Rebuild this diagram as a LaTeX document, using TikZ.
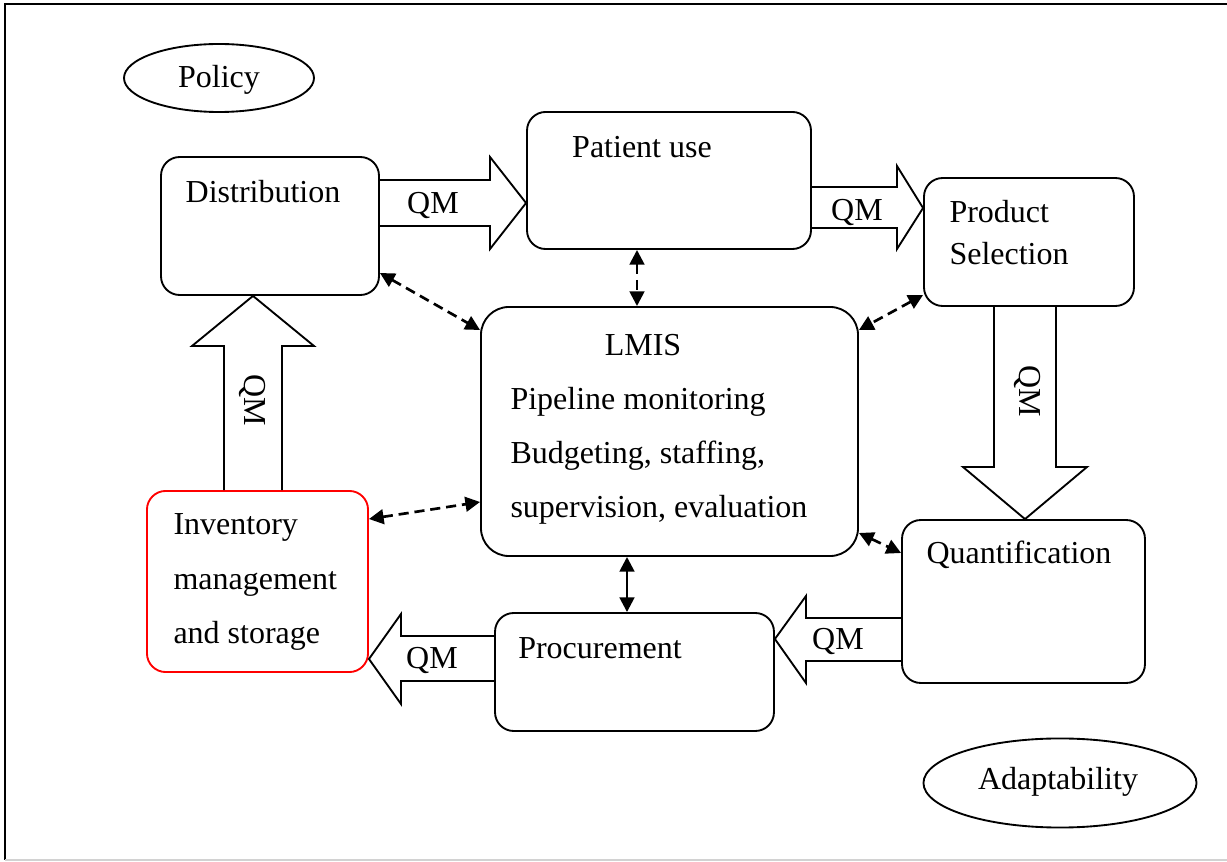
\documentclass[tikz,border=0pt]{standalone}
\usepackage{fontspec}
\setmainfont{Liberation Serif}
\usetikzlibrary{shapes.geometric,arrows.meta}

\begin{document}
\begin{tikzpicture}[x=0.375pt,y=-0.375pt,
  box/.style={draw,line width=0.7pt,rounded corners=7pt,inner sep=0pt},
  oval/.style={draw,ellipse,line width=0.7pt,inner sep=0pt},
  txt/.style={font=\fontsize{12}{14.5}\selectfont,inner sep=0pt},
  fat/.style={draw,line width=0.7pt,line join=miter},
  link/.style={{Triangle[length=5.5pt,width=5.5pt]}-{Triangle[length=5.5pt,width=5.5pt]},line width=1pt,dash pattern=on 3.8pt off 2.2pt}]
\useasboundingbox (0,0) rectangle (1227,862);
\draw[line width=0.6pt] (5,860) -- (5,4) -- (1227,4);
\draw[gray!35,line width=0.6pt] (5,860) -- (1227,860);

\node[oval,txt,minimum width=71.25pt,minimum height=25.5pt] (policy) at (219,78) {};
\node[txt] (policy-t) at (219,80) {Policy};
\node[oval,txt,minimum width=102.4pt,minimum height=33.4pt] (adapt) at (1060,783) {};
\node[txt] (adapt-t) at (1058,782) {Adaptability};

\node[box,minimum width=81.75pt,minimum height=51.75pt] (dist) at (270,226) {};
\node[box,minimum width=106.5pt,minimum height=51.4pt] (pat) at (669,180.5) {};
\node[box,minimum width=78.75pt,minimum height=48pt] (ps) at (1029,242) {};
\node[box,rounded corners=10.5pt,minimum width=141.4pt,minimum height=93.4pt] (lmis) at (669.5,431.5) {};
\node[box,draw=red,minimum width=82.9pt,minimum height=67.9pt] (inv) at (257.5,581.5) {};
\node[box,minimum width=104.6pt,minimum height=44.25pt] (proc) at (634.5,672) {};
\node[box,minimum width=91.1pt,minimum height=61.1pt] (quant) at (1023.5,601.5) {};

\node[txt] (dist-t) at (263,192) {Distribution};
\node[txt] (pat-t) at (642,147) {Patient use};
\node[txt,anchor=west,align=left,font=\fontsize{12}{15.75}\selectfont] (ps-t) at (949,233) {Product\\Selection};
\node[txt] (lmis-t) at (643,345) {LMIS};
\node[txt,anchor=west,align=left,font=\fontsize{12}{20.25}\selectfont] (lmis-b) at (510,456) {Pipeline monitoring\\Budgeting, staffing,\\supervision, evaluation};
\node[txt,anchor=west,align=left,font=\fontsize{12}{20.6}\selectfont] (inv-t) at (173,582) {Inventory\\management\\and storage};
\node[txt] (proc-t) at (600,648) {Procurement};
\node[txt] (quant-t) at (1019,555) {Quantification};

\draw[fat] (dist.east |- 0,180) -- (490,180) -- (490,157) -- (pat.west |- 0,203) -- (490,249) -- (490,226) -- (dist.east |- 0,226);
\draw[fat] (pat.east |- 0,187) -- (897,187) -- (897,166) -- (ps.west |- 0,208) -- (897,249) -- (897,228) -- (pat.east |- 0,228);
\draw[fat] (ps.south -| 994,0) -- (994,467) -- (963,467) -- (quant.north -| 1025,0) -- (1087,467) -- (1056,467) -- (ps.south -| 1056,0);
\draw[fat] (quant.west |- 0,618) -- (806,618) -- (806,596) -- (proc.east |- 0,639) -- (806,683) -- (806,661) -- (quant.west |- 0,661);
\draw[fat] (proc.west |- 0,636) -- (401,636) -- (401,614) -- (inv.east |- 0,659) -- (401,704) -- (401,681) -- (proc.west |- 0,681);
\draw[fat] (inv.north -| 224,0) -- (224,346) -- (192,346) -- (dist.south -| 253,0) -- (314,346) -- (282,346) -- (inv.north -| 282,0);

\node[txt] (qm1) at (433,206) {QM};
\node[txt] (qm2) at (857,213) {QM};
\node[txt,rotate=-90] (qm3) at (1027,391) {QM};
\node[txt] (qm4) at (838,642) {QM};
\node[txt] (qm5) at (432,661) {QM};
\node[txt,rotate=-90] (qm6) at (252,400) {QM};

\draw[link] (dist.east |- 0,273) -- (lmis.west |- 0,330);
\draw[link] (pat.south -| 637,0) -- (lmis.north -| 637,0);
\draw[link] (ps.west |- 0,295) -- (lmis.east |- 0,330);
\draw[link] (inv.east |- 0,519) -- (lmis.west |- 0,502);
\draw[link] (lmis.east |- 0,533) -- (quant.west |- 0,553);
\draw[link,solid] (lmis.south -| 627,0) -- (proc.north -| 627,0);
\end{tikzpicture}
\end{document}
